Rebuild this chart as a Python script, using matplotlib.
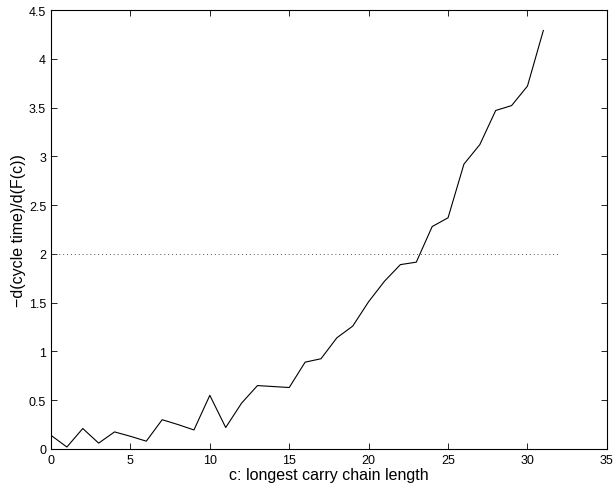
import numpy as np
import matplotlib
matplotlib.use('Agg')
import matplotlib.pyplot as plt

# Data
chain_len = list(range(0, 32))
deriv = [0.14, 0.02, 0.21, 0.06, 0.175, 0.13, 0.08, 0.30, 0.25, 0.195,
         0.55, 0.22, 0.47, 0.65, 0.64, 0.63, 0.89, 0.925, 1.14, 1.26,
         1.51, 1.72, 1.89, 1.915, 2.28, 2.37, 2.92, 3.12, 3.47, 3.52,
         3.72, 4.29]
threshold_x = [0, 32]
threshold_y = [2, 2]

plt.rcParams['font.family'] = ['Liberation Sans', 'DejaVu Sans']

fig = plt.figure(figsize=(6.13, 4.89), dpi=100)
ax = fig.add_axes([0.0832, 0.0798, 0.9068, 0.8977])

ax.plot(chain_len, deriv, '-', color='black', linewidth=0.8)
ax.plot(threshold_x, threshold_y, color='#555555', linestyle=(0, (1, 3)), linewidth=0.7)

ax.set_xlim(0, 35)
ax.set_ylim(0, 4.5)
ax.set_xticks(np.arange(0, 36, 5))
ax.set_yticks(np.arange(0, 4.6, 0.5))
ax.set_yticklabels(['0', '0.5', '1', '1.5', '2', '2.5', '3', '3.5', '4', '4.5'])
ax.tick_params(direction='in', top=True, right=True, labelsize=9, length=4, width=0.6)
for s in ax.spines.values():
    s.set_linewidth(0.8)

ax.set_xlabel('c: longest carry chain length', fontsize=11.5, labelpad=1)
ax.set_ylabel('\u2212d(cycle time)/d(F(c))', fontsize=11.5, labelpad=2)

fig.savefig('out.png', dpi=100)
